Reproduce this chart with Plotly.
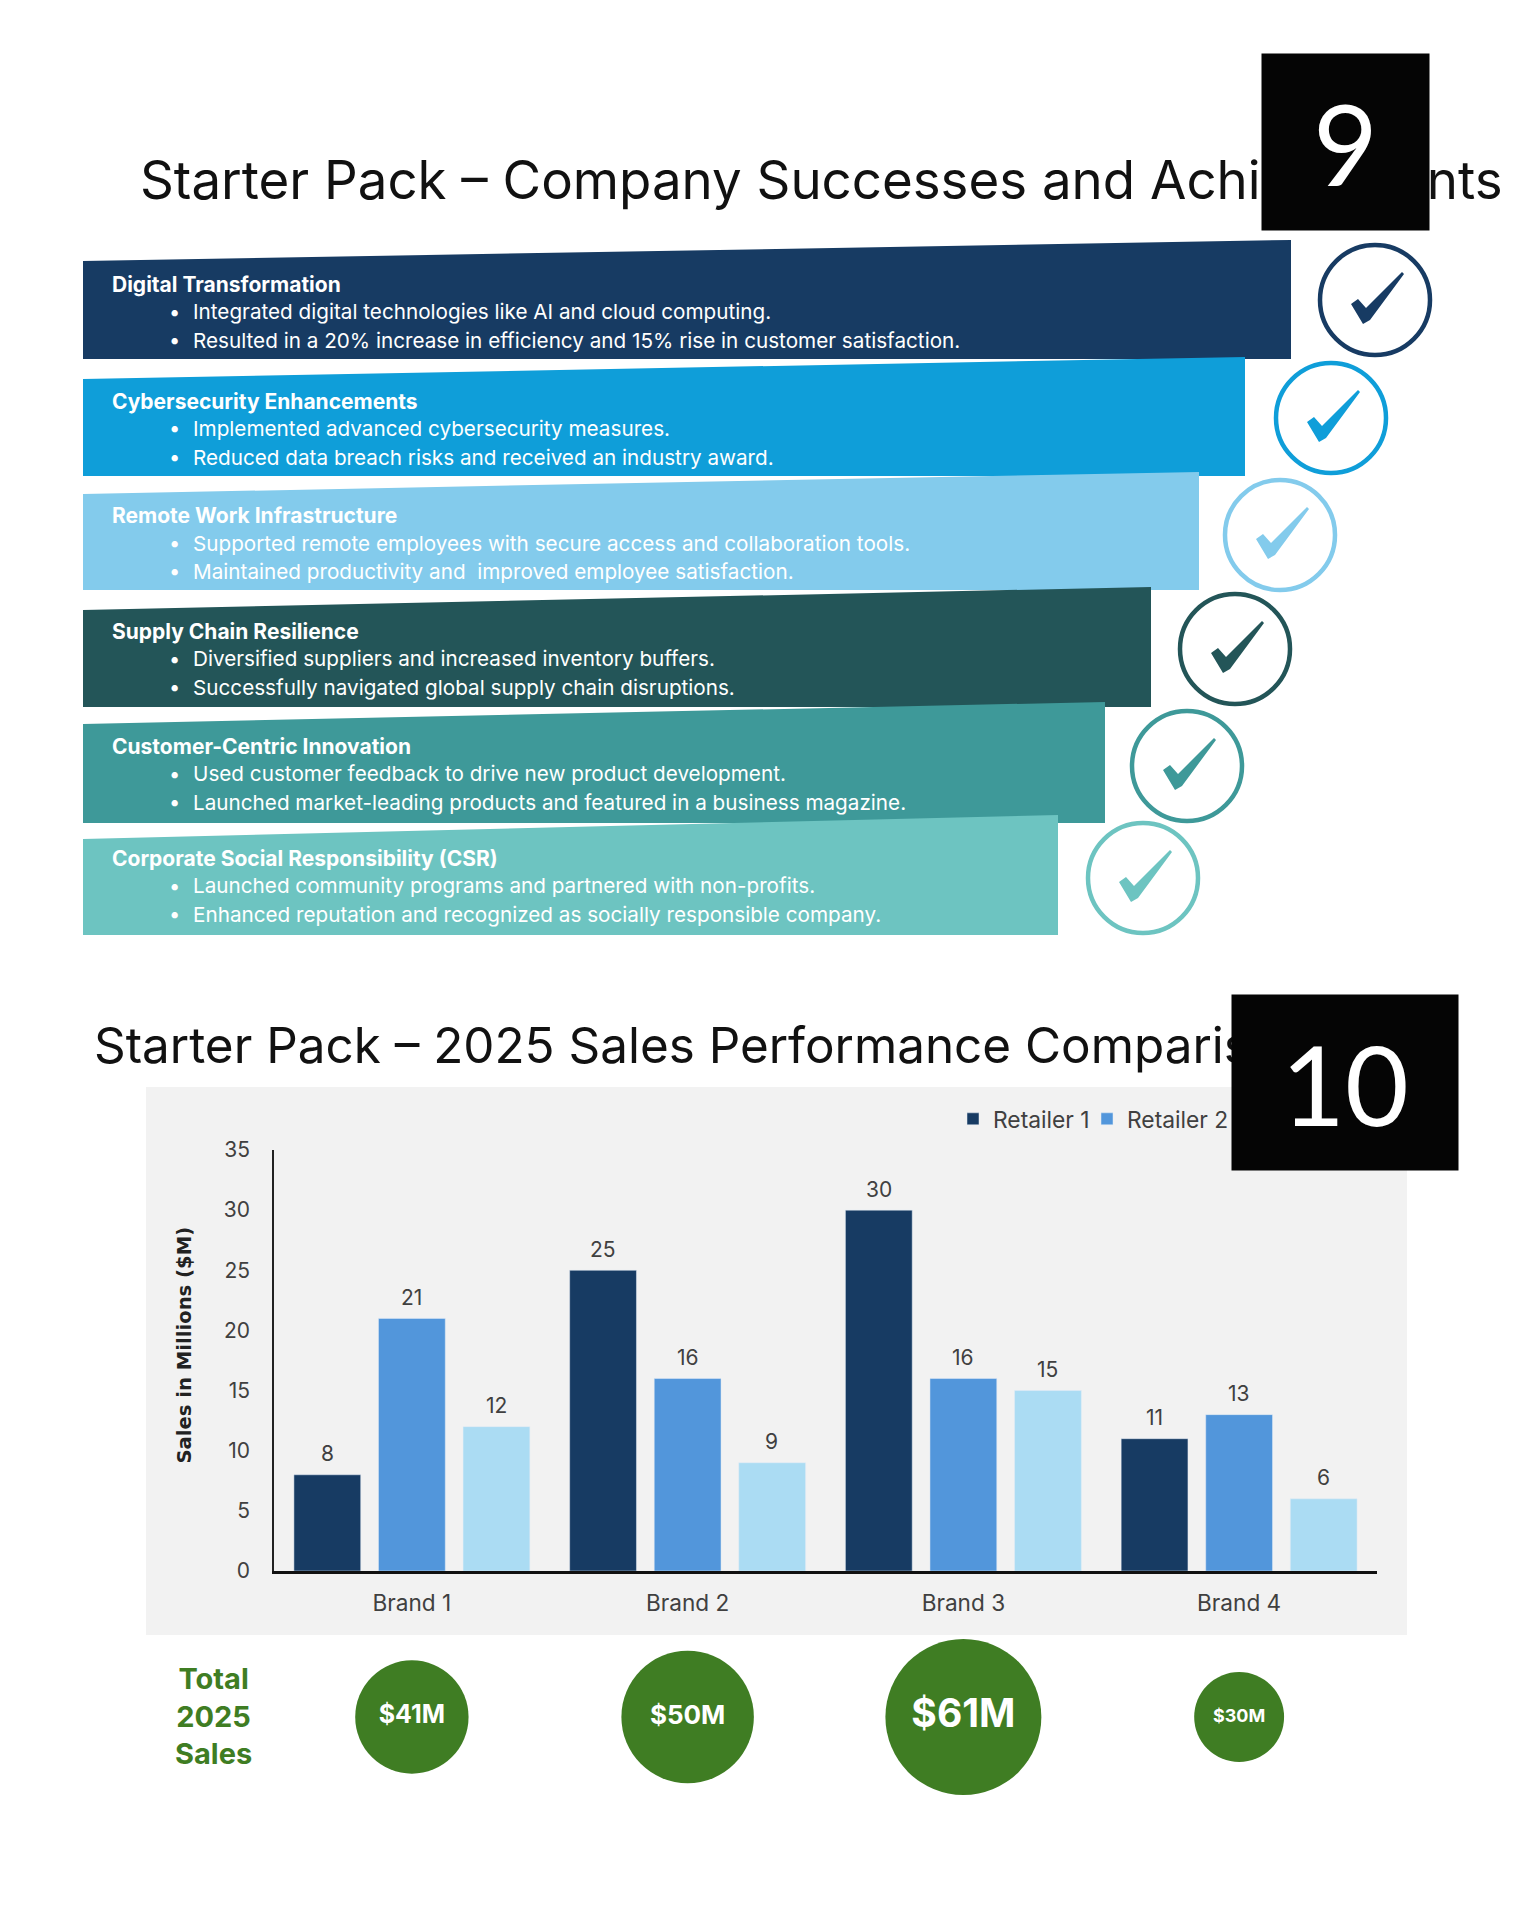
import plotly.graph_objects as go

# slide 9
steps = ["Digital Transformation", "Cybersecurity Enhancements", "Remote Work Infrastructure",
         "Supply Chain Resilience", "Customer-Centric Innovation", "Corporate Social Responsibility (CSR)"]
step_lines = [
    ["Integrated digital technologies like AI and cloud computing.",
     "Resulted in a 20% increase in efficiency and 15% rise in customer satisfaction."],
    ["Implemented advanced cybersecurity measures.",
     "Reduced data breach risks and received an industry award."],
    ["Supported remote employees with secure access and collaboration tools.",
     "Maintained productivity and  improved employee satisfaction."],
    ["Diversified suppliers and increased inventory buffers.",
     "Successfully navigated global supply chain disruptions."],
    ["Used customer feedback to drive new product development.",
     "Launched market-leading products and featured in a business magazine."],
    ["Launched community programs and partnered with non-profits.",
     "Enhanced reputation and recognized as socially responsible company."],
]
step_colors = ["#173B63", "#0F9ED9", "#83CBEC", "#235558", "#3E9999", "#6DC4C1"]

# slide 10
brands = ["Brand 1", "Brand 2", "Brand 3", "Brand 4"]
retailer_1 = [8, 25, 30, 11]
retailer_2 = [21, 16, 16, 13]
retailer_3 = [12, 9, 15, 6]
totals = [41, 50, 61, 30]
total_labels = ["$41M", "$50M", "$61M", "$30M"]

WIDTH, HEIGHT = 1536, 1920
FONT = "Inter"


def px_x(x):
    return x / WIDTH


def px_y(y):
    return 1 - y / HEIGHT


def text_note(x, y, text, size, color="white", bold=False, anchor="left", font=FONT):
    if bold:
        text = f"<b>{text}</b>"
    return dict(
        x=px_x(x), y=px_y(y), xref="paper", yref="paper", text=text, showarrow=False,
        xanchor=anchor, yanchor="middle", align=anchor,
        font=dict(size=size, color=color, family=font)
    )


def box_note(x0, x1, y0, y1, text, size):
    # annotation instead of a shape, it has to sit on top of the title and the legend
    return dict(
        x=px_x((x0 + x1) / 2), y=px_y((y0 + y1) / 2), xref="paper", yref="paper", text=text,
        xanchor="center", yanchor="middle",
        showarrow=False, width=x1 - x0 - 2, height=y1 - y0 - 2, bgcolor="#050505", align="center", valign="middle",
        font=dict(size=size, color="white", family="Lato")
    )


def prepare_step_shapes():
    shapes = []
    right = [1291, 1245, 1199, 1151, 1105, 1058]
    top_left = [261, 379, 494, 610, 724, 839]
    top_right = [240, 357, 472, 587, 702, 815]
    bottom = [359, 476, 590, 707, 823, 935]
    circles = [(1375, 300), (1331, 418), (1280, 535), (1235, 649), (1187, 766), (1143, 878)]
    tick = [(-24, 4), (-17, -1), (-9, 8), (27, -28), (29, -26), (-5, 20), (-12, 24)]
    for i, color in enumerate(step_colors):
        path = (f"M{px_x(83)},{px_y(top_left[i])} L{px_x(right[i])},{px_y(top_right[i])} "
                f"L{px_x(right[i])},{px_y(bottom[i])} L{px_x(83)},{px_y(bottom[i])} Z")
        shapes.append(dict(type="path", xref="paper", yref="paper", path=path, fillcolor=color, line_width=0))
        cx, cy = circles[i]
        shapes.append(dict(
            type="circle", xref="paper", yref="paper",
            x0=px_x(cx - 55), x1=px_x(cx + 55), y0=px_y(cy + 55), y1=px_y(cy - 55),
            fillcolor="white", line=dict(color=color, width=4.5)
        ))
        tick_path = "M" + " L".join(f"{px_x(cx + dx)},{px_y(cy + dy)}" for dx, dy in tick) + " Z"
        shapes.append(dict(type="path", xref="paper", yref="paper", path=tick_path, fillcolor=color, line_width=0))
    return shapes


def prepare_step_annotations():
    annotations = []
    heading_y = [284, 401, 515.5, 631, 746, 858]
    for i, step in enumerate(steps):
        annotations.append(text_note(110, heading_y[i], step, 21, bold=True))
        for j, line in enumerate(step_lines[i]):
            y = heading_y[i] + 27.5 + 28.5 * j
            annotations.append(text_note(167, y, "•", 20))
            annotations.append(text_note(190.5, y, line, 20.7))
    return annotations


def prepare_value_annotations():
    annotations = []
    for shift, values in zip([-84.3, 0, 84.3], [retailer_1, retailer_2, retailer_3]):
        for brand, value in zip(brands, values):
            annotations.append(dict(
                x=brand, y=value, xref="x", yref="y", text=str(value), showarrow=False,
                xshift=shift, yshift=21, font=dict(size=21, color="#404040", family=FONT)
            ))
    return annotations


fig = go.Figure()
for name, values, color in zip(["Retailer 1", "Retailer 2", "Retailer 3"],
                               [retailer_1, retailer_2, retailer_3],
                               ["#173B63", "#5296DB", "#ABDCF3"]):
    fig.add_trace(go.Bar(x=brands, y=values, name=name, marker_color=color, xaxis="x", yaxis="y"))

# totals row, circle size follows the total
fig.add_trace(go.Scatter(
    x=brands, y=[0, 0, 0, 0], xaxis="x2", yaxis="y2", mode="markers+text", showlegend=False,
    text=[f"<b>{label}</b>" for label in total_labels], textposition="middle center",
    textfont=dict(size=[25, 26, 39, 18], color="white", family=FONT),
    marker=dict(color="#3F7D23", opacity=1, size=[26 + 2.13 * total for total in totals], line_width=0),
    cliponaxis=False
))

panel = dict(
    type="rect", xref="paper", yref="paper", layer="below",
    x0=px_x(146), x1=px_x(1407), y0=px_y(1635), y1=px_y(1087), fillcolor="#F2F2F2", line_width=0
)

annotations = prepare_step_annotations() + prepare_value_annotations()
annotations += [
    text_note(137.5, 180.5, "Starter Pack – Company Successes and Achievements", 52.8, color="#111111"),
    text_note(92, 1044.5, "Starter Pack – 2025 Sales Performance Comparison", 49.4, color="#111111"),
    text_note(213.5, 1716, "Total<br>2025<br>Sales", 29, color="#3F7D23", bold=True, anchor="center"),
    dict(x=px_x(183.5), y=px_y(1345), xref="paper", yref="paper", text="<b>Sales in Millions ($M)</b>", showarrow=False,
         xanchor="center", yanchor="middle", textangle=-90,
         font=dict(size=19.6, color="#222222", family="DejaVu Sans")),
    box_note(1262, 1429, 54, 230, "9", 112),
    box_note(1232, 1458, 995, 1170, "10", 110),
]

fig.update_layout(
    width=WIDTH, height=HEIGHT,
    margin=dict(l=0, r=0, t=0, b=0, autoexpand=False), autosize=False,
    paper_bgcolor="white", plot_bgcolor="rgba(0,0,0,0)",
    barmode="group", bargap=0.08, bargroupgap=0.21,
    font=dict(family=FONT, color="#404040"),
    xaxis=dict(
        domain=[px_x(274), px_x(1377)], anchor="y", showgrid=False, showline=True, linecolor="#111111", linewidth=3,
        ticks="", ticklabelstandoff=10, tickfont=dict(size=22.6), categoryorder="array", categoryarray=brands
    ),
    yaxis=dict(
        domain=[px_y(1571), px_y(1150)], anchor="x", range=[0, 35], tick0=0, dtick=5, showgrid=False,
        showline=True, linecolor="#222222", linewidth=1.5, ticks="", ticklabelstandoff=18, tickfont=dict(size=21),
        zeroline=False
    ),
    xaxis2=dict(domain=[px_x(274), px_x(1377)], anchor="y2", visible=False, range=[-0.5, 3.5],
                categoryorder="array", categoryarray=brands),
    yaxis2=dict(domain=[px_y(1762), px_y(1672)], anchor="x2", visible=False, range=[-1, 1]),
    legend=dict(
        orientation="h", x=px_x(953), y=px_y(1119), xanchor="left", yanchor="middle", entrywidth=89,
        bgcolor="rgba(0,0,0,0)", font=dict(size=22.8, color="#404040", family=FONT), traceorder="normal"
    ),
    shapes=[panel] + prepare_step_shapes(),
    annotations=annotations
)

# drop the default body margin so the figure fills the window
fig.write_html("out.html", config=dict(displayModeBar=False), post_script="document.body.style.margin = '0';")
